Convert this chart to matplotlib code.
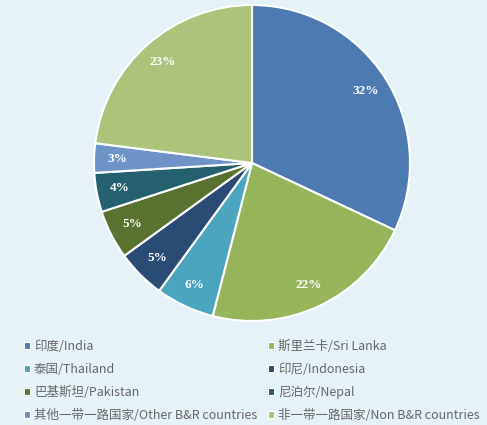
import matplotlib
matplotlib.use("Agg")
import matplotlib.pyplot as plt
from matplotlib.patches import Patch

plt.rcParams['font.family'] = ['Noto Sans CJK SC', 'DejaVu Sans']

# data, clockwise from 12 o'clock
labels = ["印度/India", "斯里兰卡/Sri Lanka", "泰国/Thailand", "印尼/Indonesia",
          "巴基斯坦/Pakistan", "尼泊尔/Nepal", "其他一带一路国家/Other B&R countries",
          "非一带一路国家/Non B&R countries"]
shares = [32, 22, 6, 5, 5, 4, 3, 23]
colors = ["#4E7AB2", "#96B55A", "#4BA5BE", "#2A4B74",
          "#5A7230", "#25606E", "#6E93C6", "#ABC37B"]

BG = "#E5F2F8"
W, H = 487, 425
fig = plt.figure(figsize=(W / 100, H / 100), dpi=100, facecolor=BG)

cx, cy, r = 252, 163, 158
ax = fig.add_axes([(cx - r) / W, (H - cy - r) / H, 2 * r / W, 2 * r / H])
ax.set_facecolor(BG)
wedges, texts, autotexts = ax.pie(
    shares, colors=colors, startangle=90, counterclock=False, radius=1,
    autopct="%d%%", pctdistance=0.85,
    wedgeprops=dict(edgecolor="white", linewidth=1.5),
    textprops=dict(color="white", fontsize=9.5, fontweight="bold",
                   family="Liberation Serif"))
for w in wedges:
    w.set_clip_on(False)
ax.set_xlim(-1, 1)
ax.set_ylim(-1, 1)
ax.set_aspect("equal")
ax.axis("off")

# legend filled row-wise: reorder for column-first layout
order = [0, 2, 4, 6, 1, 3, 5, 7]
handles = [Patch(facecolor=colors[i], edgecolor="white", linewidth=0.8) for i in order]
leg_labels = [labels[i] for i in order]
leg = fig.legend(handles, leg_labels, ncol=2, loc="upper left",
                 bbox_to_anchor=(24 / W, 1 - 340 / H), frameon=False,
                 fontsize=9.0, handlelength=0.5, handleheight=0.5,
                 handletextpad=0.3, labelspacing=0.8, columnspacing=0.85,
                 borderaxespad=0, borderpad=0)
for t in leg.get_texts():
    t.set_color("#666666")

fig.savefig("out.png", dpi=100, facecolor=BG)
